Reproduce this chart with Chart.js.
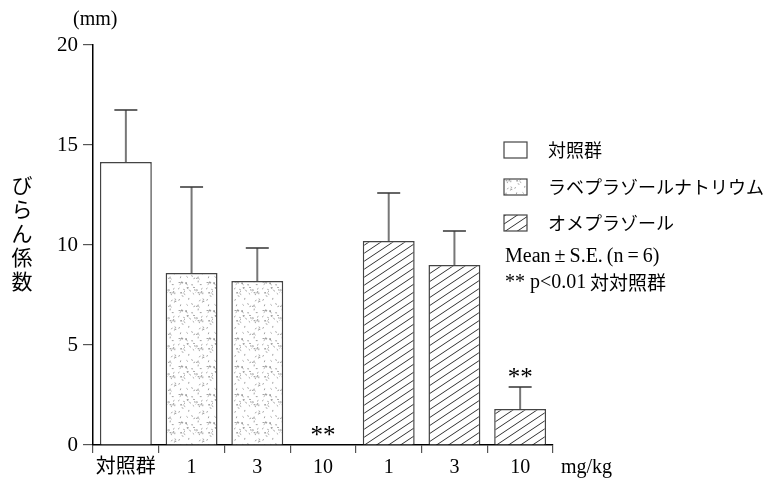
<!DOCTYPE html>
<html>
<head>
<meta charset="utf-8">
<script src="https://cdn.jsdelivr.net/npm/chart.js@4.4.0/dist/chart.umd.min.js"></script>
<style>
  body { margin: 0; background: #fff; }
  #wrap { width: 772px; height: 483px; position: relative; }
</style>
</head>
<body>
<div id="wrap"><canvas id="erosionChart"></canvas></div>
<script>
// data
const categories = ['対照群', '1', '3', '10', '1', '3', '10'];
const controlValues = [14.15, null, null, null, null, null, null];
const rabeprazoleValues = [null, 8.6, 8.2, 0, null, null, null];
const omeprazoleValues = [null, null, null, null, 10.2, 9.0, 1.8];
const errorTops = [16.75, 12.9, 9.85, null, 12.6, 10.7, 2.9];
const significance = ['', '', '', '**', '', '', '**'];
const seriesNames = ['対照群', 'ラベプラゾールナトリウム', 'オメプラゾール'];
const yTicks = [0, 5, 10, 15, 20];

const SERIF = "'Liberation Serif', 'Noto Sans CJK JP', serif";
const JP = "'Noto Sans CJK JP', sans-serif";

// fill textures
function makeDots() {
  const c = document.createElement('canvas');
  c.width = 28; c.height = 28;
  const g = c.getContext('2d');
  g.fillStyle = '#fff';
  g.fillRect(0, 0, 28, 28);
  g.strokeStyle = '#8a8a8a';
  g.lineWidth = 0.8;
  let s = 7;
  const next = () => { s = (s * 9301 + 49297) % 233280; return s / 233280; };
  for (let i = 0; i < 46; i++) {
    const x = next() * 28, y = next() * 28;
    const a = next() * Math.PI;
    g.beginPath();
    g.moveTo(x, y);
    g.lineTo(x + Math.cos(a) * 1.8, y + Math.sin(a) * 1.8);
    g.stroke();
  }
  return g.createPattern(c, 'repeat');
}

function makeHatch() {
  const w = 12, h = 8;
  const c = document.createElement('canvas');
  c.width = w; c.height = h;
  const g = c.getContext('2d');
  g.fillStyle = '#fff';
  g.fillRect(0, 0, w, h);
  g.strokeStyle = '#333';
  g.lineWidth = 1;
  g.beginPath();
  g.moveTo(-w, 2 * h); g.lineTo(2 * w, -h);
  g.moveTo(-2 * w, 2 * h); g.lineTo(w, -h);
  g.moveTo(0, 2 * h); g.lineTo(3 * w, -h);
  g.stroke();
  return g.createPattern(c, 'repeat');
}

const dotFill = makeDots();
const hatchFill = makeHatch();
const fills = ['#ffffff', dotFill, hatchFill];

const extras = {
  id: 'extras',
  afterDatasetsDraw(chart) {
    const { ctx, scales: { x, y } } = chart;
    ctx.save();
    const vals = categories.map((_, i) => controlValues[i] ?? rabeprazoleValues[i] ?? omeprazoleValues[i] ?? 0);
    // error bars
    errorTops.forEach((top, i) => {
      if (top == null) return;
      const cx = x.getPixelForValue(i);
      const y0 = y.getPixelForValue(vals[i]);
      const y1 = y.getPixelForValue(top);
      ctx.strokeStyle = '#777';
      ctx.lineWidth = 2;
      ctx.beginPath(); ctx.moveTo(cx, y0); ctx.lineTo(cx, y1); ctx.stroke();
      ctx.strokeStyle = '#333';
      ctx.lineWidth = 1.5;
      ctx.beginPath(); ctx.moveTo(cx - 11.5, y1); ctx.lineTo(cx + 11.5, y1); ctx.stroke();
    });
    // significance marks
    ctx.fillStyle = '#000';
    ctx.font = '25px ' + SERIF;
    ctx.textAlign = 'center';
    ctx.textBaseline = 'alphabetic';
    significance.forEach((m, i) => {
      if (!m) return;
      const top = Math.max(vals[i], errorTops[i] ?? 0);
      ctx.fillText(m, x.getPixelForValue(i), y.getPixelForValue(top) - 2);
    });
    ctx.restore();
  },
  afterDraw(chart) {
    const { ctx } = chart;
    ctx.save();
    ctx.fillStyle = '#000';
    ctx.textBaseline = 'middle';

    // unit labels
    ctx.font = '20px ' + SERIF;
    ctx.textAlign = 'left';
    ctx.fillText('(mm)', 73, 20);
    ctx.fillText('mg/kg', 561, 468);

    // vertical y title
    ctx.font = '21px ' + JP;
    ctx.textAlign = 'center';
    const title = 'びらん係数';
    [...title].forEach((ch, i) => ctx.fillText(ch, 22, 185 + i * 24));

    // legend
    const rows = [150, 187, 223];
    seriesNames.forEach((name, i) => {
      ctx.fillStyle = fills[i];
      ctx.fillRect(504, rows[i] - 8, 23, 16);
      ctx.strokeStyle = '#444';
      ctx.lineWidth = 1.2;
      ctx.strokeRect(504, rows[i] - 8, 23, 16);
      ctx.fillStyle = '#000';
      ctx.font = '18px ' + JP;
      ctx.textAlign = 'left';
      ctx.fillText(name, 548, rows[i]);
    });
    ctx.font = '20px ' + SERIF;
    ctx.fillText('Mean\u2009\u00b1\u2009S.E.\u2009(n\u2009=\u20096)', 505, 257);
    ctx.fillText('** p<0.01', 505, 283);
    ctx.font = '19px ' + JP;
    ctx.fillText('対対照群', 590, 283);
    ctx.restore();
  }
};

const ctx = document.getElementById('erosionChart').getContext('2d');
new Chart(ctx, {
  type: 'bar',
  data: {
    labels: categories,
    datasets: [
      { label: seriesNames[0], data: controlValues, backgroundColor: fills[0] },
      { label: seriesNames[1], data: rabeprazoleValues, backgroundColor: fills[1] },
      { label: seriesNames[2], data: omeprazoleValues, backgroundColor: fills[2] }
    ]
  },
  options: {
    responsive: true,
    maintainAspectRatio: false,
    animation: false,
    datasets: {
      bar: {
        grouped: false,
        categoryPercentage: 1,
        barPercentage: 0.79,
        borderColor: '#444',
        borderWidth: c => (c.raw === 0 ? 0 : 1.5)
      }
    },
    layout: {
      padding: { top: 45, right: 219, bottom: 0, left: 0 }
    },
    plugins: {
      legend: { display: false },
      tooltip: { enabled: false }
    },
    scales: {
      x: {
        afterFit(scale) { scale.height = 38; },
        grid: {
          offset: true,
          drawOnChartArea: false,
          tickLength: 8,
          lineWidth: 1.2,
          color: c => (c.index === categories.length ? 'rgba(0,0,0,0)' : '#555')
        },
        border: { color: '#000', width: 1.5 },
        ticks: {
          color: '#000',
          padding: 3,
          font: { family: SERIF, size: 20 },
          maxRotation: 0
        }
      },
      y: {
        min: 0,
        max: 20,
        afterFit(scale) { scale.width = 93; },
        afterBuildTicks(scale) { scale.ticks = yTicks.map(v => ({ value: v })); },
        grid: {
          drawOnChartArea: false,
          tickLength: 10,
          lineWidth: 1.2,
          color: '#555'
        },
        border: { color: '#000', width: 1.5 },
        ticks: {
          color: '#000',
          padding: 5,
          font: { family: SERIF, size: 21 }
        }
      }
    }
  },
  plugins: [extras]
});
</script>
</body>
</html>
